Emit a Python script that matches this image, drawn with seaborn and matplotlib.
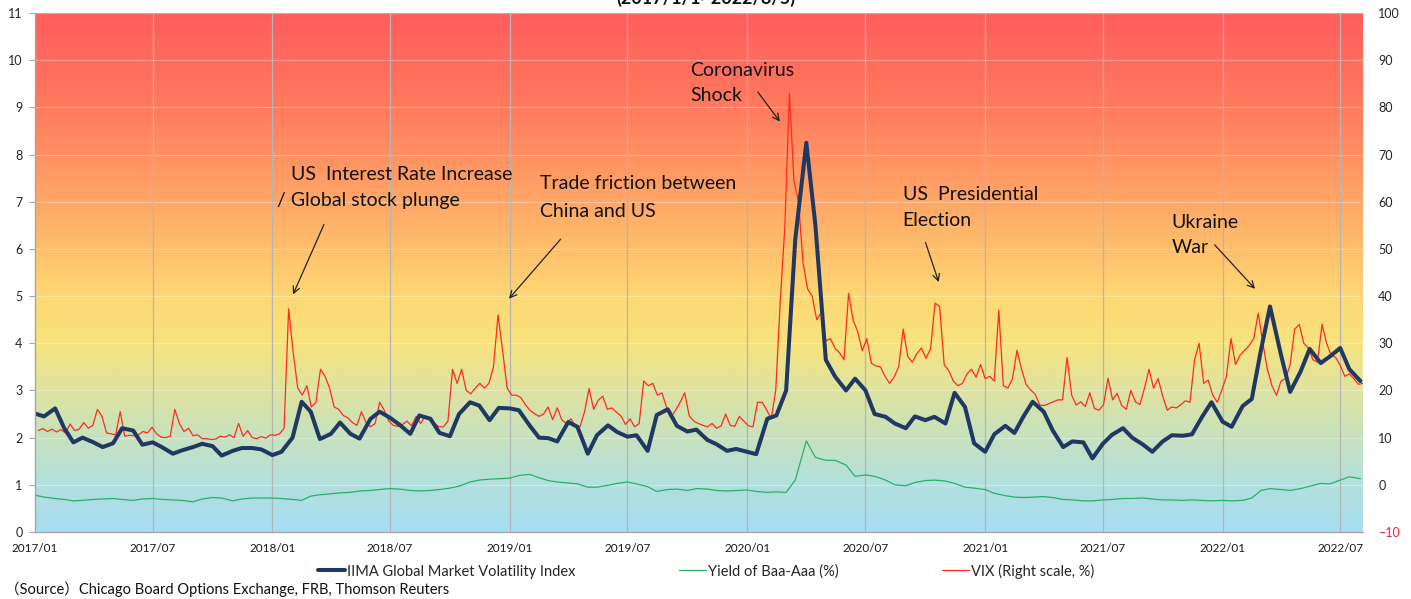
import numpy as np
import pandas as pd
import matplotlib
matplotlib.use("Agg")
import matplotlib.pyplot as plt
import matplotlib.dates as mdates
from matplotlib.colors import LinearSegmentedColormap
from matplotlib.lines import Line2D
import seaborn as sns

# --------------------------------------------------
# Data
# --------------------------------------------------

# IIMA index and Baa-Aaa spread, left scale, on the 1st and 15th of each month
iima_index = [
    2.51, 2.45, 2.62, 2.20, 1.90, 2.00, 1.90, 1.80, 1.88, 2.20, 2.15, 1.85,
    1.90, 1.80, 1.66, 1.73, 1.80, 1.87, 1.82, 1.62, 1.72, 1.78, 1.78, 1.75,
    1.63, 1.70, 2.00, 2.76, 2.55, 1.97, 2.08, 2.32, 2.08, 1.98, 2.40, 2.55,
    2.42, 2.28, 2.08, 2.47, 2.40, 2.10, 2.03, 2.50, 2.75, 2.68, 2.37, 2.63,
    2.62, 2.58, 2.25, 2.00, 1.99, 1.92, 2.33, 2.23, 1.66, 2.05, 2.26, 2.12,
    2.02, 2.05, 1.72, 2.48, 2.60, 2.25, 2.13, 2.17, 1.95, 1.86, 1.72, 1.76,
    1.70, 1.65, 2.40, 2.47, 3.00, 6.20, 8.25, 6.50, 3.65, 3.30, 3.00, 3.25,
    3.00, 2.50, 2.44, 2.30, 2.20, 2.45, 2.37, 2.44, 2.30, 2.95, 2.65, 1.88,
    1.70, 2.07, 2.25, 2.10, 2.45, 2.76, 2.55, 2.15, 1.80, 1.92, 1.90, 1.56,
    1.87, 2.06, 2.20, 2.00, 1.85, 1.70, 1.92, 2.05, 2.04, 2.07, 2.45, 2.75,
    2.34, 2.23, 2.67, 2.82, 3.85, 4.78, 3.75, 2.97, 3.40, 3.88, 3.58, 3.72,
    3.90, 3.45, 3.20,
]

baa_aaa_spread = [
    0.78, 0.74, 0.71, 0.69, 0.66, 0.67, 0.69, 0.70, 0.71, 0.69, 0.67, 0.70,
    0.71, 0.69, 0.68, 0.67, 0.64, 0.70, 0.73, 0.72, 0.66, 0.70, 0.72, 0.72,
    0.72, 0.71, 0.69, 0.67, 0.76, 0.79, 0.81, 0.83, 0.84, 0.87, 0.88, 0.90,
    0.92, 0.91, 0.88, 0.87, 0.88, 0.90, 0.93, 0.97, 1.06, 1.10, 1.12, 1.13,
    1.14, 1.20, 1.22, 1.15, 1.09, 1.06, 1.04, 1.02, 0.95, 0.95, 0.99, 1.03,
    1.06, 1.02, 0.96, 0.86, 0.90, 0.91, 0.88, 0.92, 0.91, 0.88, 0.87, 0.88,
    0.89, 0.86, 0.84, 0.85, 0.84, 1.10, 1.93, 1.58, 1.52, 1.52, 1.42, 1.18,
    1.21, 1.18, 1.10, 1.00, 0.98, 1.05, 1.09, 1.10, 1.08, 1.03, 0.95, 0.93,
    0.90, 0.82, 0.77, 0.74, 0.73, 0.74, 0.75, 0.73, 0.69, 0.68, 0.66, 0.66,
    0.68, 0.69, 0.71, 0.71, 0.72, 0.70, 0.68, 0.68, 0.67, 0.68, 0.67, 0.66,
    0.67, 0.66, 0.67, 0.72, 0.88, 0.92, 0.90, 0.88, 0.92, 0.97, 1.03, 1.02,
    1.10, 1.17, 1.13,
]

# VIX, right scale, one reading per week (Fridays)
vix = [
    # 2017
    11.5, 11.9, 11.3, 11.8, 11.2, 11.7, 11.0, 12.9, 11.5, 11.8, 13.2, 12.0, 12.6,
    16.0, 14.5, 11.0, 10.8, 10.6, 15.5, 10.3, 10.5, 10.4, 10.6, 11.3, 11.0, 12.2,
    10.8, 10.1, 10.0, 10.3, 16.0, 13.0, 11.3, 12.0, 10.4, 10.6, 9.8, 9.8, 9.6,
    9.7, 10.3, 10.1, 10.6, 10.0, 13.0, 10.3, 11.5, 10.0, 9.8, 10.2, 9.9, 10.6,
    # 2018
    10.5, 10.8, 12.0, 37.3, 28.0, 20.5, 19.0, 21.0, 16.5, 17.5, 24.5, 23.0, 20.5,
    16.5, 16.0, 14.7, 14.2, 13.2, 12.6, 15.5, 13.2, 12.3, 13.0, 17.5, 15.8, 13.5,
    12.6, 12.4, 12.8, 13.5, 12.5, 14.5, 13.0, 14.5, 13.7, 13.0, 12.3, 12.3, 13.5,
    24.5, 21.5, 24.5, 20.0, 19.3, 20.5, 21.5, 20.5, 21.5, 25.0, 36.0, 28.5, 20.5,
    # 2019
    19.0, 19.0, 18.5, 17.0, 15.8, 15.1, 14.5, 15.0, 16.5, 13.8, 16.3, 13.8, 13.0,
    14.0, 12.5, 12.3, 15.5, 20.4, 16.0, 17.9, 18.8, 16.0, 16.3, 15.4, 14.6, 12.8,
    14.0, 12.3, 13.0, 22.0, 21.0, 21.5, 19.0, 19.5, 16.5, 14.4, 15.8, 17.5, 19.5,
    14.6, 13.5, 13.0, 12.6, 12.3, 13.0, 12.0, 12.5, 15.0, 12.6, 12.4, 14.5, 13.5,
    # 2020
    12.5, 12.3, 17.5, 17.5, 15.9, 14.0, 20.0, 39.0, 54.7, 83.0, 64.5, 60.0, 47.0,
    41.5, 40.0, 35.0, 36.5, 30.5, 31.0, 29.0, 28.0, 26.5, 40.6, 34.9, 32.5, 28.4,
    31.0, 25.8, 25.2, 25.0, 23.0, 21.5, 22.8, 25.0, 33.0, 27.2, 26.0, 27.8, 29.0,
    26.8, 28.8, 38.5, 37.8, 25.5, 24.2, 22.0, 21.0, 21.5, 23.5, 24.5, 22.8, 25.5,
    # 2021
    22.5, 23.0, 22.0, 37.0, 21.0, 20.5, 22.5, 28.5, 24.5, 21.3, 20.1, 19.2, 16.9,
    16.8, 17.2, 17.6, 18.0, 18.0, 27.0, 19.0, 16.9, 17.6, 16.6, 19.5, 16.2, 15.8,
    17.0, 22.6, 18.0, 19.4, 16.8, 16.0, 20.0, 17.6, 17.0, 20.5, 24.5, 20.5, 22.5,
    18.8, 15.8, 16.5, 16.3, 17.0, 17.8, 17.5, 26.5, 30.0, 21.5, 22.2, 19.0, 17.5,
    20.1,
    # 2022
    23.0, 31.0, 25.5, 27.5, 28.5, 29.5, 31.0, 36.4, 30.0, 24.5, 21.0, 19.0, 22.0,
    22.5, 25.5, 33.0, 34.0, 30.0, 29.0, 26.5, 26.0, 34.0, 30.0, 27.5, 27.0, 25.3,
    23.0, 23.5, 22.5, 21.3, 21.5,
]

half_month_dates = pd.date_range("2017-01-01", "2022-08-01", freq="SMS")
week_dates = pd.date_range("2017-01-06", "2022-08-05", freq="W-FRI")

tick_dates = pd.date_range("2017-01-01", "2022-07-01", freq="6MS")
tick_labels = [d.strftime("%Y/%m") for d in tick_dates]

series_names = [
    "IIMA Global Market Volatility Index",
    "Yield of Baa-Aaa (%)",
    "VIX (Right scale, %)",
]

# background colours, bottom to top (left-scale level, colour)
bg_stops = [
    (0, "#a8def2"), (1, "#b3e0de"), (2, "#c7e2bd"), (3, "#dfe3a0"),
    (4, "#f7e37e"), (5, "#fed873"), (7, "#ffa767"), (9, "#ff7b5e"),
    (11, "#ff5d5d"),
]

# --------------------------------------------------
# Figure
# --------------------------------------------------

sns.set_style("white")
plt.rcParams["font.family"] = ["Lato", "Noto Sans CJK JP", "DejaVu Sans"]

W, H = 1411, 599
fig = plt.figure(figsize=(W / 100, H / 100), dpi=100)
ax = fig.add_axes([35 / W, 1 - 532 / H, 1328 / W, 519 / H])
ax2 = ax.twinx()
ax.set_zorder(ax2.get_zorder() + 1)
ax.patch.set_visible(False)

navy = "#1f3864"
green = "#2bb067"
red = "#ff2a20"

sns.lineplot(x=week_dates, y=vix, ax=ax2, color=red, linewidth=0.9)
sns.lineplot(x=half_month_dates, y=baa_aaa_spread, ax=ax, color=green, linewidth=0.9)
sns.lineplot(x=half_month_dates, y=iima_index, ax=ax, color=navy, linewidth=2.9)

x0 = mdates.date2num(pd.Timestamp("2017-01-01"))
x1 = mdates.date2num(pd.Timestamp("2022-08-05"))

bg_cmap = LinearSegmentedColormap.from_list(
    "bg", [(lvl / 11, c) for lvl, c in bg_stops]
)
grad = np.linspace(0, 1, 500).reshape(-1, 1)
ax2.imshow(grad, cmap=bg_cmap, origin="lower", aspect="auto",
           extent=[x0, x1, -10, 100], zorder=0, interpolation="bilinear")

for d in tick_dates[1:]:
    ax2.axvline(mdates.date2num(d), color="#b5b5b5", linewidth=0.9, zorder=0.6)

ax.set_xlim(x0, x1)
ax.set_ylim(0, 11)
ax2.set_ylim(-10, 100)

ax.set_yticks(range(0, 12))
ax2.set_yticks(range(-10, 101, 10))
ax2.yaxis.grid(True, color="#ffffff", alpha=0.35, linewidth=0.8)
ax2.set_axisbelow(True)

ax.set_xticks([mdates.date2num(d) for d in tick_dates])
ax.set_xticklabels(tick_labels)

ax.set_xlabel("")
ax.set_ylabel("")
ax2.set_ylabel("")

for s in ["top", "right"]:
    ax.spines[s].set_visible(False)
for s in ["left", "bottom"]:
    ax.spines[s].set_color("#a6a6a6")
    ax.spines[s].set_linewidth(1.0)
for s in ax2.spines.values():
    s.set_visible(False)

ax.tick_params(axis="y", length=4, width=0.8, color="#a6a6a6",
               labelsize=9, labelcolor="#262626", pad=5)
ax.tick_params(axis="x", length=4, width=0.8, color="#a6a6a6",
               labelsize=8.5, labelcolor="#1a1a1a", pad=4)
ax2.tick_params(axis="y", length=0, labelsize=9, labelcolor="#262626", pad=11)
ax2.get_yticklabels()[0].set_color("#ff2020")

# --------------------------------------------------
# Event notes
# --------------------------------------------------

def dnum(s):
    return mdates.date2num(pd.Timestamp(s))

notes = [
    ("US  Interest Rate Increase", "2018-01-29", 7.57),
    ("/ Global stock plunge", "2018-01-08", 7.02),
    ("Trade friction between", "2019-02-17", 7.38),
    ("China and US", "2019-02-17", 6.80),
    ("Coronavirus", "2019-10-06", 9.79),
    ("Shock", "2019-10-06", 9.26),
    ("US  Presidential", "2020-08-27", 7.16),
    ("Election", "2020-08-27", 6.61),
    ("Ukraine", "2021-10-15", 6.57),
    ("War", "2021-10-15", 6.04),
]
for txt, d, y in notes:
    ax.text(dnum(d), y, txt, fontsize=14, color="#111111",
            ha="left", va="center", zorder=5)

arrows = [
    (("2018-03-23", 6.57), ("2018-01-31", 4.98)),
    (("2019-03-23", 6.25), ("2018-12-28", 4.90)),
    (("2020-01-15", 9.37), ("2020-02-23", 8.65)),
    (("2020-09-30", 6.19), ("2020-10-23", 5.24)),
    (("2021-12-17", 6.13), ("2022-02-23", 5.11)),
]
for (sd, sy), (ed, ey) in arrows:
    ax.annotate("", xy=(dnum(ed), ey), xytext=(dnum(sd), sy),
                arrowprops=dict(arrowstyle="->", color="#222222",
                                linewidth=0.9, mutation_scale=12),
                zorder=5)

# --------------------------------------------------
# Legend, title, source
# --------------------------------------------------

handles = [
    Line2D([], [], color=navy, linewidth=2.9),
    Line2D([], [], color=green, linewidth=0.9),
    Line2D([], [], color=red, linewidth=0.9),
]
fig.legend(handles, series_names, loc="center",
           bbox_to_anchor=(706 / W, 1 - 571 / H), ncol=3, frameon=False,
           fontsize=10.5, columnspacing=7.1, handlelength=1.85,
           handletextpad=0.15, labelcolor="#262626")

fig.text(0.5, 1 - 4 / H, "(2017/1/1~2022/8/5)", ha="center", va="baseline",
         fontsize=13, fontweight="bold", color="#111111")

fig.text(5 / W, 1 - 589 / H,
         "（Source）Chicago Board Options Exchange, FRB, Thomson Reuters",
         ha="left", va="center", fontsize=10.5, color="#111111")

fig.savefig("out.png", dpi=100)
